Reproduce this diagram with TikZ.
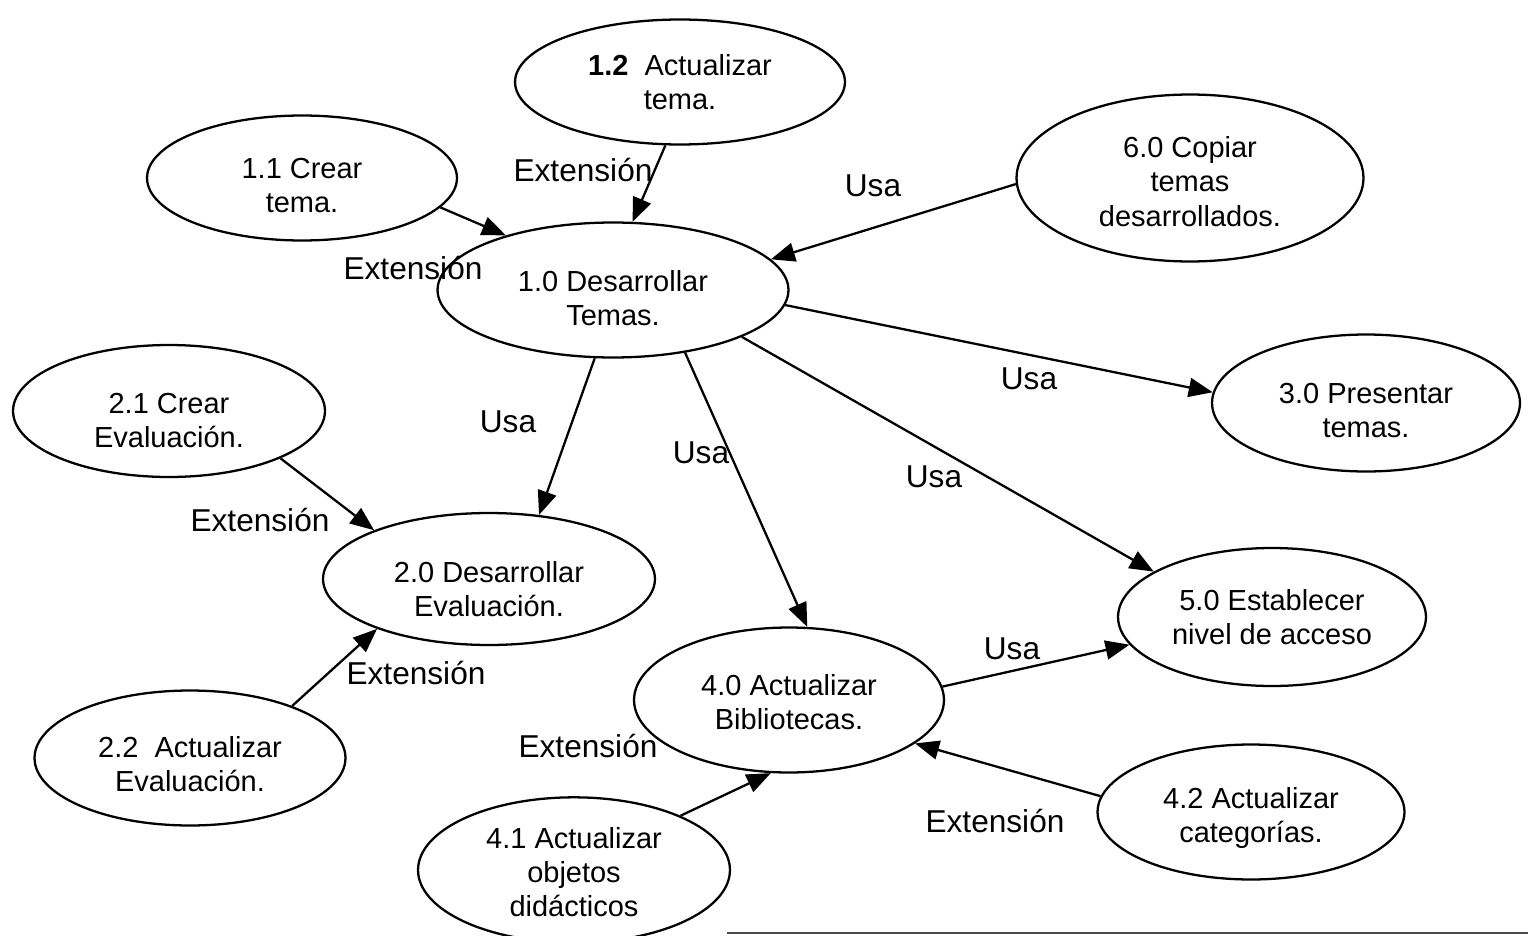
\documentclass[tikz,border=0pt]{standalone}
\usepackage{fontspec}
\setmainfont{Liberation Sans}
\usetikzlibrary{shapes.geometric,arrows.meta}
% centred multi-line use-case text, lowered by #1 inside its ellipse
\newcommand{\uctext}[2]{\raisebox{\dimexpr-#1-0.08cm\relax}[\height][\depth]{\begin{tabular}{@{}c@{}}#2\end{tabular}}}
\begin{document}
\begin{tikzpicture}[x=0.02cm,y=-0.02cm,
  usecase/.style={ellipse,draw,line width=1.3pt,inner sep=0pt,
    font=\fontsize{16.5}{19.5}\selectfont},
  lbl/.style={font=\fontsize{18}{20}\selectfont,inner sep=0pt},
  rel/.style={line width=1.3pt,-{Triangle[length=0.48cm,width=0.38cm]}}]
\useasboundingbox (0,0) rectangle (1528,936);

% use cases
\node[usecase,minimum width=6.6cm,minimum height=2.5cm] (n12) at (680,82) {\uctext{0cm}{\textbf{1.2}\ \ Actualizar\\tema.}};
\node[usecase,minimum width=6.2cm,minimum height=2.5cm] (n11) at (302,178) {\uctext{0.14cm}{1.1 Crear\\tema.}};
\node[usecase,minimum width=6.94cm,minimum height=3.34cm] (n60) at (1190,178) {\uctext{0.06cm}{6.0 Copiar\\temas\\desarrollados.}};
\node[usecase,minimum width=7.02cm,minimum height=2.7cm] (n10) at (613,290) {\uctext{0.16cm}{1.0 Desarrollar\\Temas.}};
\node[usecase,minimum width=6.24cm,minimum height=2.64cm] (n21) at (169,411) {\uctext{0.18cm}{2.1 Crear\\Evaluación.}};
\node[usecase,minimum width=6.16cm,minimum height=2.74cm] (n30) at (1366,403) {\uctext{0.14cm}{3.0 Presentar\\temas.}};
\node[usecase,minimum width=6.64cm,minimum height=2.64cm] (n20) at (489,579) {\uctext{0.2cm}{2.0 Desarrollar\\Evaluación.}};
\node[usecase,minimum width=6.16cm,minimum height=2.76cm] (n50) at (1272,617) {\uctext{0cm}{5.0 Establecer\\nivel de acceso}};
\node[usecase,minimum width=6.2cm,minimum height=2.9cm] (n40) at (789,700) {\uctext{0.04cm}{4.0 Actualizar\\Bibliotecas.}};
\node[usecase,minimum width=6.22cm,minimum height=2.7cm] (n22) at (190,758) {\uctext{0.12cm}{2.2\ \ Actualizar\\Evaluación.}};
\node[usecase,minimum width=6.14cm,minimum height=2.7cm] (n42) at (1251,812) {\uctext{0.06cm}{4.2 Actualizar\\categorías.}};
\node[usecase,minimum width=6.24cm,minimum height=2.54cm] (n41) at (574,870) {\uctext{0.03cm}{4.1 Actualizar\\objetos\\didácticos}};

% relations
\draw[rel] (n12.-103) -- (n10.74);
\draw[rel] (n11.-12) -- (n10.153);
\draw[rel] (n60.-178) -- (n10.11);
\draw[rel] (n10.-5) -- (n30.176);
\draw[rel] (n10.-105) -- (n20.52);
\draw[rel] (n10.-41) -- (n40.76);
\draw[rel] (n10.-20) -- (n50.159.5);
\draw[rel] (n21.-23) -- (n20.157);
\draw[rel] (n22.27) -- (n20.-156.5);
\draw[rel] (n41.27) -- (n40.-104.5);
\draw[rel] (n42.174.4) -- (n40.-19.4);
\draw[rel] (n40.5.5) -- (n50.-169.6);

% relation labels
\node[lbl] (e1) at (583,170) {Extensión};
\node[lbl] (e2) at (413,268) {Extensión};
\node[lbl] (u1) at (873,186) {Usa};
\node[lbl] (u2) at (1029,379) {Usa};
\node[lbl] (u3) at (508,422) {Usa};
\node[lbl] (u4) at (701,453) {Usa};
\node[lbl] (u5) at (934,477) {Usa};
\node[lbl] (e3) at (260,520) {Extensión};
\node[lbl] (e4) at (416,673) {Extensión};
\node[lbl] (u6) at (1012,649) {Usa};
\node[lbl] (e5) at (588,746) {Extensión};
\node[lbl] (e6) at (995,821) {Extensión};

% rule along the lower edge
\coordinate (ruleL) at (727,933);
\coordinate (ruleR) at (1528,933);
\draw[line width=1.2pt,black!70] (ruleL) -- (ruleR);
\end{tikzpicture}
\end{document}
